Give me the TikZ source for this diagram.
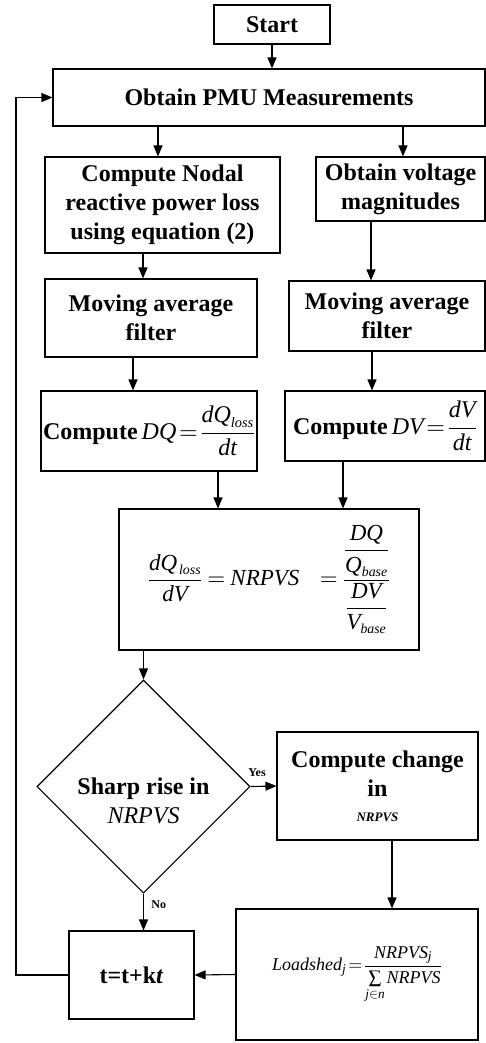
\documentclass[tikz,border=0pt]{standalone}
\usepackage{amsmath}
\usepackage{mathptmx}
\usepackage[no-math]{fontspec}
\setmainfont{Liberation Serif}
\usetikzlibrary{shapes.geometric, arrows.meta}

\newcommand{\boxfont}{\fontsize{24}{29}\selectfont\bfseries}
\newcommand{\eqfont}{\fontsize{23}{28}\selectfont}
\newcommand{\vr}[1]{\text{\normalfont\itshape #1}}

\begin{document}
\begin{tikzpicture}[
    ->, >={Triangle[length=11pt, width=9pt]}, line width=1.1pt, x=1pt, y=-1pt,
    block/.style={rectangle, draw, inner sep=2pt, align=center, font=\boxfont},
    decision/.style={diamond, draw, inner sep=0pt, minimum width=213pt, minimum height=213pt},
    tag/.style={font=\fontsize{12}{14}\selectfont\bfseries}
]
    \useasboundingbox (0,0) rectangle (486,1043);

    \node[block, minimum width=116pt, minimum height=39pt] (start) at (272,24.5) {Start};
    \node[block, minimum width=432pt, minimum height=57pt] (pmu) at (269,97.5) {Obtain PMU Measurements};
    \node[block, minimum width=235pt, minimum height=96pt] (qloss) at (162.5,205) {Compute Nodal\\reactive power loss\\using equation (2)};
    \node[block, minimum width=169pt, minimum height=64pt] (volt) at (400.5,189) {Obtain voltage\\magnitudes};
    \node[block, minimum width=212pt, minimum height=78pt] (mavq) at (151,318) {Moving average\\filter};
    \node[block, minimum width=196pt, minimum height=70pt] (mavv) at (387,316) {Moving average\\filter};
    \node[block, minimum width=216pt, minimum height=80pt, inner sep=0pt] (dq) at (149,431)
        {Compute\,$\vr{DQ}\!=\!\dfrac{\vr{dQ}_{\scriptscriptstyle\vr{loss}}}{\vr{dt}}$};
    \node[block, minimum width=200pt, minimum height=70pt] (dv) at (385,426)
        {Compute\,$\vr{DV}\!=\!\dfrac{\vr{dV}}{\vr{dt}}$};
    \node[block, minimum width=300pt, minimum height=141pt, font=\eqfont] (nrpvs) at (269,579.5)
        {$\dfrac{\vr{dQ}_{\,\scriptscriptstyle\vr{loss}}}{\vr{dV}} = \vr{NRPVS}\;\;\; = \dfrac{\dfrac{\vr{DQ}}{\vr{Q}_{\scriptscriptstyle\vr{base}}}}{\dfrac{\vr{DV}}{\vr{V}_{\scriptscriptstyle\vr{base}}}}$};
    \node[decision] (rise) at (143.5,786.5) {};
    \node[font=\boxfont, align=center] (risetext) at (143.5,801) {Sharp rise in\\\textit{\mdseries NRPVS}};
    \node[block, minimum width=201pt, minimum height=108pt] (change) at (377.5,786)
        {Compute change\\in\\[-4pt]{\fontsize{13}{15}\selectfont\textit{NRPVS}}};
    \node[block, minimum width=242pt, minimum height=131pt, font=\fontsize{18}{21}\selectfont] (shed) at (357,974.5)
        {$\vr{Loadshed}_{\vr{j}}\!=\!\dfrac{\vr{NRPVS}_{\vr{j}}}{\sum\limits_{\vr{j}\in\vr{n}}\vr{NRPVS}}$};
    \node[block, minimum width=125pt, minimum height=88pt] (tstep) at (131.5,975) {t=t+k\textit{t}};
    \coordinate (back) at (16,975);

    \path
        (start.south) edge (start.south |- pmu.north)
        (pmu.south -| 158,0) edge (qloss.north -| 158,0)
        (pmu.south -| 403,0) edge (volt.north -| 403,0)
        (qloss.south -| 143,0) edge (mavq.north -| 143,0)
        (volt.south -| 371,0) edge (mavv.north -| 371,0)
        (mavq.south -| 133,0) edge (dq.north -| 133,0)
        (mavv.south -| 372,0) edge (dv.north -| 372,0)
        (dq.south -| 218,0) edge (nrpvs.north -| 218,0)
        (dv.south -| 343,0) edge (nrpvs.north -| 343,0)
        (nrpvs.south -| rise.north) edge (rise.north)
        (rise.east) edge node[tag, pos=0.25, above=6pt] {Yes} (change.west)
        (rise.south) edge node[tag, pos=0.3, right=4pt] {No} (rise.south |- tstep.north)
        (change.south -| 392,0) edge (shed.north -| 392,0)
        (shed.west) edge (tstep.east);
    \draw (tstep.west) -- (back) |- (pmu.west);
\end{tikzpicture}
\end{document}
